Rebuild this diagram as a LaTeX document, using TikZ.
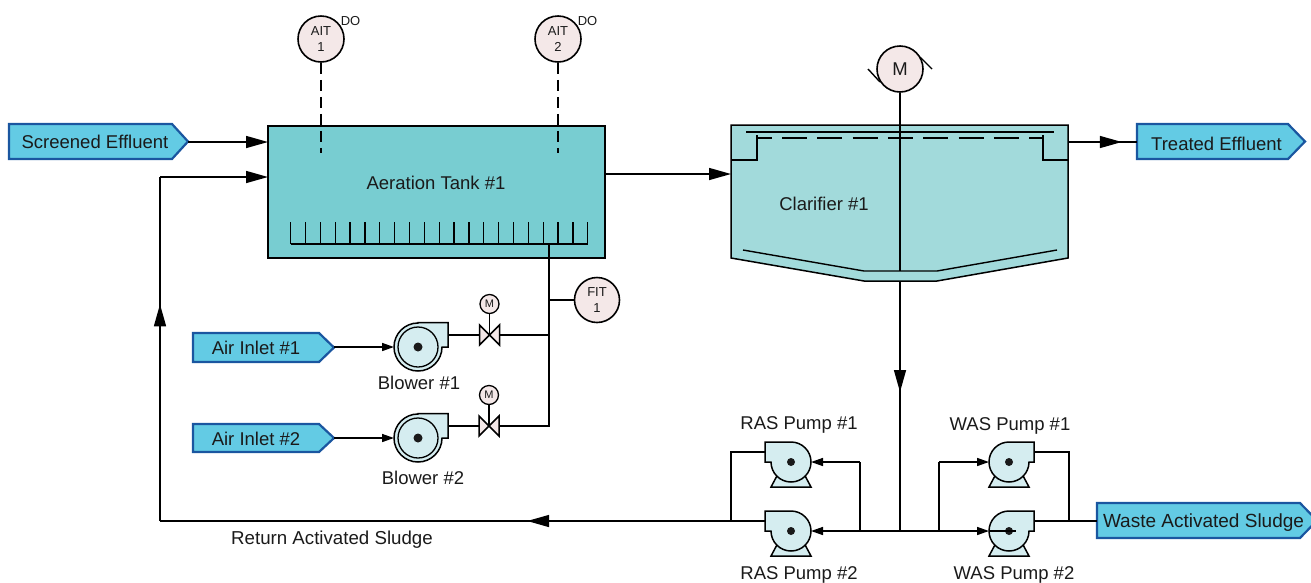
\documentclass[tikz,border=0pt]{standalone}
\usepackage{fontspec}
\setmainfont{Liberation Sans}
\usetikzlibrary{arrows.meta,decorations.markings}
\definecolor{tagfill}{HTML}{63CBE4}
\definecolor{tagline}{HTML}{1A56A0}
\definecolor{tankfill}{HTML}{78CDD1}
\definecolor{clarfill}{HTML}{A2DADB}
\definecolor{pumpfill}{HTML}{D5EDF0}
\definecolor{instfill}{HTML}{F4E8E8}
\definecolor{ink}{HTML}{1A1A1A}
\tikzset{
  x=1pt,y=-1pt,
  pipe/.style={line width=1.5pt,black},
  tip/.style={-{Triangle[length=22pt,width=12pt]}},
  tipsmall/.style={-{Triangle[length=12pt,width=8pt]}},
  midtip/.style={decoration={markings,mark=at position #1 with {\arrow{Triangle[length=22pt,width=12pt]}}},postaction={decorate}},
  tagbox/.style={draw=tagline,line width=2.2pt,fill=tagfill,line join=miter},
  inst/.style={circle,draw=black,line width=1.6pt,fill=instfill,inner sep=0pt,minimum size=#1,align=center,font=\fontsize{13}{15.5}\selectfont,text=ink},
  lbl/.style={font=\fontsize{18.5}{20}\selectfont,text=ink,inner sep=0pt},
  tagtext/.style={font=\fontsize{18.5}{20}\selectfont,text=ink,inner sep=0pt},
  part/.style={draw=black,line width=1.5pt,fill=pumpfill},
  smalllbl/.style={font=\fontsize{13}{15}\selectfont,text=ink,inner sep=0pt},
  hub/.style={circle,fill=ink,inner sep=0pt,minimum size=#1},
}
\newcommand{\tagshape}[5]{\draw[tagbox] (#1,#2)--(#5,#2)--(#3,{(#2+#4)/2})--(#5,#4)--(#1,#4)--cycle;}
\newcommand{\blowershape}[3]{%
  \draw[part] (#1,#2-24.5)--(#1+30,#2-24.5)--(#1+30,#2)--(#1+24,#2)
     arc[start angle=0,end angle=-270,radius=24pt]--cycle;
  \draw[black,line width=1.3pt,fill=pumpfill] (#1,#2) circle[radius=20pt];
  \node[hub=9pt] (#3) at (#1,#2) {};
}
\newcommand{\pumpbase}[2]{\draw[part] (#1-20,#2+25)--(#1+20,#2+25)--(#1+12,#2+10)--(#1-12,#2+10)--cycle;}
\newcommand{\pumpleft}[3]{%
  \pumpbase{#1}{#2}
  \draw[part] (#1-26,#2-20)--(#1,#2-20) arc[start angle=90,end angle=-180,radius=20pt]--(#1-26,#2)--cycle;
  \node[hub=8pt] (#3) at (#1,#2) {};
}
\newcommand{\pumpright}[3]{%
  \pumpbase{#1}{#2}
  \draw[part] (#1+25,#2-20)--(#1,#2-20) arc[start angle=90,end angle=360,radius=20pt]--(#1+25,#2)--cycle;
  \node[hub=8pt] (#3) at (#1,#2) {};
}
\begin{document}
\begin{tikzpicture}
\useasboundingbox (0,0) rectangle (1311,582);
% aeration tank
\draw[black,line width=1.5pt,fill=tankfill] (268,126) rectangle (605,258);
\node[lbl] (aer) at (436,183) {Aeration Tank \#1};
\coordinate (tankW1) at (268,142);
\coordinate (tankW2) at (268,177);
\coordinate (tankE) at (605,174);
\coordinate (tankS) at (549,244);
% diffuser
\draw[black,line width=1.4pt] (290.7,244)--(587.7,244);
\foreach \i in {0,...,20} \draw[black,line width=1.3pt] ({290.7+\i*14.85},244)--({290.7+\i*14.85},222);
% clarifier
\draw[black,line width=1.5pt,fill=clarfill] (731,125)--(1068,125)--(1068,258)--(937,281)--(864,281)--(731,258)--cycle;
\node[lbl] (clar) at (824,204) {Clarifier \#1};
\draw[black,line width=1.4pt] (731,160)--(757,160)--(757,135);
\draw[black,line width=1.4pt] (1068,160)--(1043,160)--(1043,135);
\draw[black,line width=1.4pt] (746,132)--(1054,132);
\draw[black,line width=1.4pt,dash pattern=on 25pt off 10.3pt,dash phase=10.3pt] (757,138)--(1043,138);
\draw[black,line width=1.4pt] (743,250)--(864,271)--(937,271)--(1057,250);
\coordinate (clarW) at (731,174);
\coordinate (clarE) at (1068,142);
\coordinate (clarBot) at (900,281);
\coordinate (clarRake) at (900,271);
% mechanism
\node[inst=46pt,font=\fontsize{18.5}{20}\selectfont] (mot) at (900,69) {M};
\draw[black,line width=1.4pt] (868,69)--(880,82);
\draw[black,line width=1.4pt] (932,69)--(920,57);
\draw[pipe] (mot)--(clarRake);
% instruments
\node[inst=46pt] (ait1) at (321,39) {AIT\\[1pt]1};
\node[inst=46pt] (ait2) at (558,39) {AIT\\[1pt]2};
\node[smalllbl] (do1) at (350.5,21) {DO};
\node[smalllbl] (do2) at (587.5,21) {DO};
\coordinate (prb1) at (321,153);
\coordinate (prb2) at (558,153);
\draw[pipe,dash pattern=on 11pt off 6pt] (ait1)--(prb1);
\draw[pipe,dash pattern=on 11pt off 6pt] (ait2)--(prb2);
\node[inst=45pt] (fit) at (597,300) {FIT\\[1pt]1};
% tags
\tagshape{9}{124}{188}{159}{172}
\node[tagtext] (se) at (95,142) {Screened Effluent};
\coordinate (seE) at (188,142);
\tagshape{193}{333}{334}{362}{319}
\node[tagtext] (ai1) at (256,348) {Air Inlet \#1};
\coordinate (ai1E) at (334,347);
\tagshape{193}{424}{334}{452}{319}
\node[tagtext] (ai2) at (256,439) {Air Inlet \#2};
\coordinate (ai2E) at (334,438);
\tagshape{1137}{124}{1305}{159}{1288}
\node[tagtext] (te) at (1216.5,144) {Treated Effluent};
\coordinate (teW) at (1137,142);
\tagshape{1097}{503}{1317}{538}{1300}
\node[tagtext,font=\fontsize{19}{20}\selectfont] (wa) at (1203.5,523) {Waste Activated Sludge};
\coordinate (waW) at (1097,521);
% blowers
\blowershape{418}{347}{bl1}
\blowershape{418}{438}{bl2}
\node[lbl] (bl1t) at (419,383) {Blower \#1};
\node[lbl] (bl2t) at (423,478) {Blower \#2};
% valves
\coordinate (v1) at (489.5,335);
\coordinate (v2) at (489,426);
\foreach \v in {v1,v2}{
  \draw[black,line width=1.5pt,fill=instfill,line join=miter] ([shift={(-10,-10)}]\v)--([shift={(10,10)}]\v)--([shift={(10,-10)}]\v)--([shift={(-10,10)}]\v)--cycle;
}
\node[inst=19pt,font=\fontsize{11}{12}\selectfont,line width=1.3pt] (m1) at (489.5,304) {M};
\node[inst=19pt,font=\fontsize{11}{12}\selectfont,line width=1.3pt] (m2) at (489,395) {M};
\draw[pipe] (m1)--(v1);
\draw[pipe] (m2)--(v2);
% air pipes
\coordinate (bo1) at (448,335);
\coordinate (bo2) at (448,426);
\coordinate (j1) at (549,335);
\coordinate (j2) at (549,426);
\coordinate (jf) at (549,300);
\draw[pipe] (bo1)--([xshift=-10pt]v1);
\draw[pipe] ([xshift=10pt]v1)--(j1);
\draw[pipe] (bo2)--([xshift=-10pt]v2);
\draw[pipe] ([xshift=10pt]v2)--(j2)--(tankS);
\draw[pipe] (jf)--(fit);
\coordinate (bi1) at (394,347);
\coordinate (bi2) at (394,438);
\draw[pipe,tipsmall] (ai1E)--(bi1);
\draw[pipe,tipsmall] (ai2E)--(bi2);
% main flow
\draw[pipe,tip] (seE)--(tankW1);
\coordinate (rtnA) at (160,177);
\coordinate (rtnB) at (160,521);
\coordinate (rasJ) at (731,521);
\draw[pipe,tip] (rtnA)--(tankW2);
\draw[pipe,midtip=0.63] (rtnB)--(rtnA);
\draw[pipe,midtip=0.357] (rasJ)--(rtnB);
\draw[pipe,tip] (tankE)--(clarW);
\draw[pipe,midtip=0.78] (clarE)--(teW);
\node[lbl,font=\fontsize{18.7}{20}\selectfont] (rtn) at (332,540) {Return Activated Sludge};
% pumps
\pumpleft{791}{462}{ras1}
\pumpleft{791}{531}{ras2}
\pumpright{1009}{462}{was1}
\pumpright{1009}{531}{was2}
\node[lbl] (r1t) at (799,425) {RAS Pump \#1};
\node[lbl] (r2t) at (799,574.5) {RAS Pump \#2};
\node[lbl] (w1t) at (1010,426) {WAS Pump \#1};
\node[lbl] (w2t) at (1014,574.5) {WAS Pump \#2};
% sludge pipes
\coordinate (hdr) at (900,531);
\coordinate (rs) at (860,531);
\coordinate (rs1) at (860,462);
\coordinate (ws) at (939,531);
\coordinate (ws1) at (939,462);
\coordinate (rasIn1) at (811,462);
\coordinate (rasIn2) at (811,531);
\coordinate (wasIn1) at (989,462);
\coordinate (wasIn2) at (989,531);
\coordinate (wasEnd) at (1016,531);
\draw[pipe,midtip=0.444] (clarBot)--(hdr);
\draw[pipe,tipsmall] (rs)--(rasIn2);
\draw[pipe,tipsmall] (rs1)--(rasIn1);
\draw[pipe] (rs)--(rs1);
\draw[pipe] (hdr)--(rs);
\draw[pipe] (ws)--(ws1);
\draw[pipe,tipsmall] (ws1)--(wasIn1);
\draw[pipe] (hdr)--(ws);
\draw[pipe,tipsmall] (ws)--(wasIn2);
\draw[pipe] (wasIn2)--(wasEnd);
\draw[pipe] (rasJ)--(731,452)--(765,452);
\draw[pipe] (rasJ)--(765,521);
\draw[pipe] (1034,452)--(1069,452)--(1069,521);
\draw[pipe] (1034,521)--(waW);
\end{tikzpicture}
\end{document}
